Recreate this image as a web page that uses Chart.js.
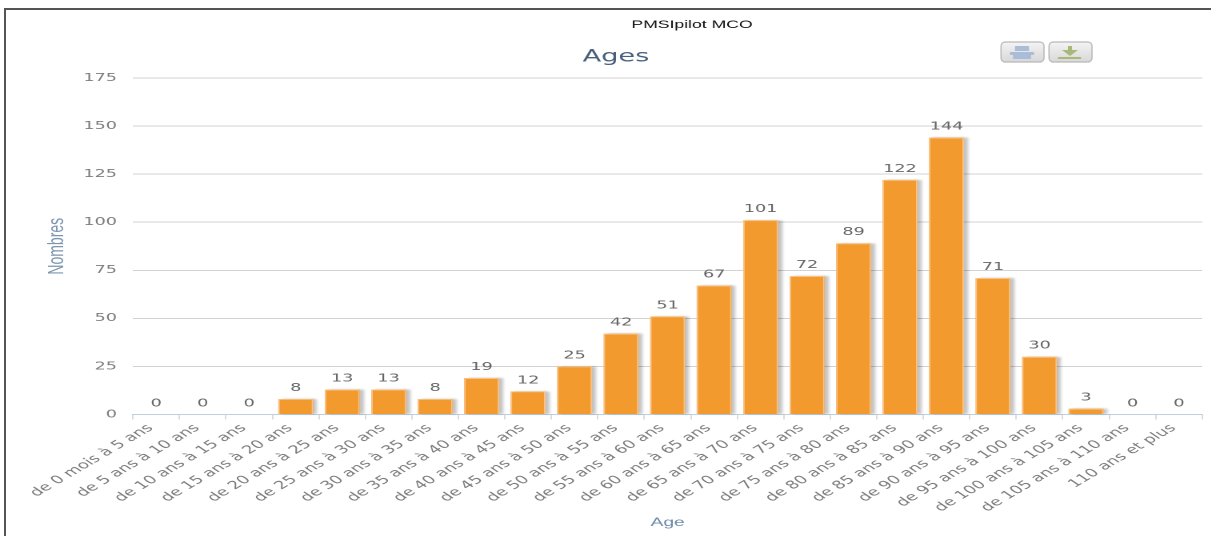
<!DOCTYPE html>
<html lang="fr">
<head>
<meta charset="utf-8">
<title>Ages</title>
<script src="https://cdn.jsdelivr.net/npm/chart.js@4"></script>
<style>
  html, body { margin: 0; background: #fff; overflow: hidden; }
  #frame { position: absolute; left: 4px; top: 8px; right: 0; bottom: 0; border-left: 2px solid #555; border-top: 2px solid #555; }
  /* the chart is laid out narrow and widened by stretchX */
  #chart { position: absolute; left: 0; top: 0; transform-origin: 0 0; transform: scaleX(1.6); }
</style>
</head>
<body>
<canvas id="chart" width="757" height="536"></canvas>
<div id="frame"></div>
<script>
const ageLabels = [
    "de 0 mois à 5 ans", "de 5 ans à 10 ans", "de 10 ans à 15 ans", "de 15 ans à 20 ans",
    "de 20 ans à 25 ans", "de 25 ans à 30 ans", "de 30 ans à 35 ans", "de 35 ans à 40 ans",
    "de 40 ans à 45 ans", "de 45 ans à 50 ans", "de 50 ans à 55 ans", "de 55 ans à 60 ans",
    "de 60 ans à 65 ans", "de 65 ans à 70 ans", "de 70 ans à 75 ans", "de 75 ans à 80 ans",
    "de 80 ans à 85 ans", "de 85 ans à 90 ans", "de 90 ans à 95 ans", "de 95 ans à 100 ans",
    "de 100 ans à 105 ans", "de 105 ans à 110 ans", "110 ans et plus"
];
const counts = [0, 0, 0, 8, 13, 13, 8, 19, 12, 25, 42, 51, 67, 101, 72, 89, 122, 144, 71, 30, 3, 0, 0];

const stretchX = 1.6;
const font = "'DejaVu Sans', sans-serif";
const titleFont = "'Liberation Sans', sans-serif";

function dropZero(scale) {
    scale.paddingTop = scale.paddingBottom = scale.paddingLeft = scale.paddingRight = 0;
}

function roundBox(ctx, x, y, w, h) {
    const g = ctx.createLinearGradient(0, y, 0, y + h);
    g.addColorStop(0, "#f4f4f4");
    g.addColorStop(1, "#d8d8d8");
    ctx.fillStyle = g;
    ctx.strokeStyle = "#b8b8b8";
    ctx.lineWidth = 1.2;
    ctx.beginPath();
    ctx.roundRect(x, y, w, h, 4);
    ctx.fill();
    ctx.stroke();
}

// soft shadow to the right of the bars, laid down before the bars themselves
const barShadow = {
    id: "barShadow",
    beforeDatasetsDraw(chart) {
        const ctx = chart.ctx;
        ctx.save();
        ctx.shadowColor = "rgba(0,0,0,0.24)";
        ctx.shadowOffsetX = 5;
        ctx.shadowOffsetY = 0;
        ctx.shadowBlur = 4;
        ctx.fillStyle = "#f39a2e";
        chart.getDatasetMeta(0).data.forEach(bar => {
            if (bar.base > bar.y) ctx.fillRect(bar.x - bar.width / 2, bar.y, bar.width, bar.base - bar.y);
        });
        ctx.restore();
    }
};

const valueLabels = {
    id: "valueLabels",
    afterDatasetsDraw(chart) {
        const ctx = chart.ctx;
        ctx.save();
        ctx.font = "11px " + font;
        ctx.fillStyle = "#666";
        ctx.textAlign = "center";
        ctx.textBaseline = "middle";
        chart.getDatasetMeta(0).data.forEach((bar, i) => {
            ctx.fillText(counts[i], bar.x, bar.y - 11);
        });
        ctx.restore();
    }
};

// headings and the print / export buttons
const header = {
    id: "header",
    afterDraw(chart) {
        const ctx = chart.ctx;
        ctx.save();
        ctx.textAlign = "center";
        ctx.textBaseline = "middle";
        ctx.fillStyle = "#111";
        ctx.font = "11px " + titleFont;
        ctx.fillText("PMSIpilot MCO", 692 / stretchX, 25);
        ctx.fillStyle = "#47617c";
        ctx.font = "17px " + font;
        ctx.fillText("Ages", 616 / stretchX, 57);

        ctx.scale(1 / stretchX, 1);
        roundBox(ctx, 1001, 42, 43, 20);
        roundBox(ctx, 1049, 42, 43, 20);
        ctx.fillStyle = "#a9bcd8";
        ctx.fillRect(1015, 46, 14, 5);
        ctx.fillRect(1010, 52, 24, 3);
        ctx.fillRect(1013, 55, 18, 4);
        ctx.fillStyle = "#a8b878";
        ctx.fillRect(1068, 46, 4, 5);
        ctx.beginPath();
        ctx.moveTo(1062, 50);
        ctx.lineTo(1078, 50);
        ctx.lineTo(1070, 56);
        ctx.fill();
        ctx.fillRect(1058, 57, 23, 2);
        ctx.restore();
    }
};

new Chart(document.getElementById("chart"), {
    type: "bar",
    data: {
        labels: ageLabels,
        datasets: [{
            label: "Nombres",
            data: counts,
            backgroundColor: "#f39a2e",
            borderColor: "#f9c284",
            borderWidth: 1,
            barPercentage: 0.75,
            categoryPercentage: 1
        }]
    },
    options: {
        responsive: false,
        animation: false,
        devicePixelRatio: 2,
        layout: { padding: { left: 0, right: 5.6, top: 78, bottom: 0 } },
        plugins: { legend: { display: false }, tooltip: { enabled: false } },
        scales: {
            x: {
                afterFit(scale) { scale.height = 121.5; dropZero(scale); },
                grid: { drawOnChartArea: false, color: "#c0d0e0", tickLength: 5, lineWidth: 0.7 },
                border: { color: "#c0d0e0" },
                ticks: {
                    autoSkip: false,
                    minRotation: 43,
                    maxRotation: 43,
                    labelOffset: -3.5,
                    padding: 2,
                    color: "#7c7c7c",
                    font: { family: font, size: 11.3 }
                },
                title: {
                    display: true,
                    text: "Age",
                    color: "#6d8aa8",
                    font: { family: titleFont, size: 12 },
                    padding: { top: 0, bottom: 6 }
                }
            },
            y: {
                min: 0,
                max: 175,
                afterFit(scale) { scale.width = 133 / stretchX; dropZero(scale); },
                grid: { color: "#d2d2d2", drawTicks: false },
                border: { display: false },
                ticks: {
                    stepSize: 25,
                    padding: 10,
                    color: "#7c7c7c",
                    font: { family: font, size: 11 }
                },
                title: {
                    display: true,
                    text: "Nombres",
                    color: "#7c95ae",
                    font: { family: titleFont, size: 14 },
                    padding: { top: 27, bottom: 0 }
                }
            }
        }
    },
    plugins: [barShadow, valueLabels, header]
});
</script>
</body>
</html>
